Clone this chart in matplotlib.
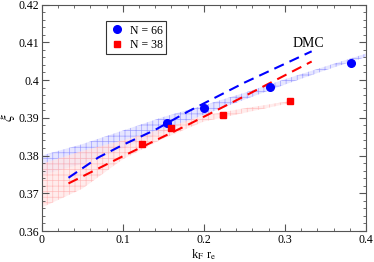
import matplotlib
matplotlib.use("Agg")
import matplotlib.pyplot as plt

plt.rcParams['font.family'] = ['Liberation Serif', 'DejaVu Serif']
plt.rcParams['mathtext.fontset'] = 'stix'
plt.rcParams['hatch.linewidth'] = 0.5

# data points
x66 = [0.154, 0.200, 0.281, 0.382]
y66 = [0.3887, 0.3926, 0.3981, 0.4045]
x38 = [0.124, 0.160, 0.224, 0.306]
y38 = [0.3830, 0.3873, 0.3907, 0.3944]

# DMC extrapolation (dashed)
dmc66_x = [0.033, 0.07, 0.10, 0.14, 0.18, 0.25, 0.333]
dmc66_y = [0.3741, 0.3795, 0.3828, 0.3868, 0.3916, 0.3993, 0.4076]
dmc38_x = [0.033, 0.10, 0.18, 0.25, 0.333]
dmc38_y = [0.3726, 0.3798, 0.3881, 0.3957, 0.4049]

# uncertainty bands
band66_x = [0.0, 0.05, 0.10, 0.15, 0.20, 0.25, 0.30, 0.35, 0.40]
band66_hi = [0.3800, 0.3830, 0.3866, 0.3902, 0.3933, 0.3966, 0.4002, 0.4036, 0.4070]
band66_lo = [0.3748, 0.3778, 0.3818, 0.3862, 0.3908, 0.3948, 0.3988, 0.4026, 0.4061]
band38_x = [0.0, 0.05, 0.10, 0.15, 0.20, 0.25, 0.30, 0.31]
band38_hi = [0.3778, 0.3812, 0.3840, 0.3872, 0.3906, 0.3925, 0.3942, 0.3946]
band38_lo = [0.3662, 0.3712, 0.3790, 0.3845, 0.3890, 0.3913, 0.3936, 0.3941]

fig = plt.figure(figsize=(3.74, 2.62), dpi=100)
ax = fig.add_axes([0.1115, 0.1183, 0.8671, 0.8645])

ax.fill_between(band66_x, band66_lo, band66_hi, facecolor=(0.90, 0.90, 1.0),
                edgecolor=(0.62, 0.62, 1.0), hatch='+++', linewidth=0)
ax.fill_between(band38_x, band38_lo, band38_hi, facecolor=(1.0, 0.90, 0.90),
                edgecolor=(1.0, 0.68, 0.68), hatch='+++', linewidth=0, alpha=0.75)

ax.plot(dmc66_x, dmc66_y, color='blue', lw=1.5, dashes=(5, 3))
ax.plot(dmc38_x, dmc38_y, color='red', lw=1.5, dashes=(5, 3))

ax.plot(x66, y66, 'o', color='blue', ms=5.5, label='N = 66')
ax.plot(x38, y38, 's', color='red', ms=4.8, label='N = 38')

ax.text(0.309, 0.4097, 'DMC', fontsize=10, va='center')

ax.set_xlim(0, 0.4)
ax.set_ylim(0.36, 0.42)
ax.set_xticks([0, 0.1, 0.2, 0.3, 0.4])
ax.set_xticklabels(['0', '0.1', '0.2', '0.3', '0.4'])
ax.set_yticks([0.36, 0.37, 0.38, 0.39, 0.40, 0.41, 0.42])
ax.set_yticklabels(['0.36', '0.37', '0.38', '0.39', '0.4', '0.41', '0.42'])
ax.set_xticks([i * 0.02 for i in range(21)], minor=True)
ax.set_yticks([0.36 + i * 0.002 for i in range(31)], minor=True)
ax.tick_params(which='both', direction='in', top=True, right=True, labelsize=8.5,
               color='#555555', pad=2)
ax.tick_params(which='major', length=5)
ax.tick_params(which='minor', length=2.5)
for s in ax.spines.values():
    s.set_color('#555555')

ax.set_xlabel(r'k$_\mathrm{F}$ r$_\mathrm{e}$', fontsize=9, labelpad=1)
ax.set_ylabel(r'$\xi$', fontsize=11)
ax.yaxis.set_label_coords(-0.075, 0.5)

leg = ax.legend(loc='upper left', bbox_to_anchor=(0.198, 0.927), borderaxespad=0,
                fontsize=8.5, fancybox=False, edgecolor='#333333', framealpha=1,
                handlelength=1.2, handletextpad=0.5, borderpad=0.3, labelspacing=0.2)
leg.get_frame().set_linewidth(0.8)

fig.savefig('out.png', dpi=100)
